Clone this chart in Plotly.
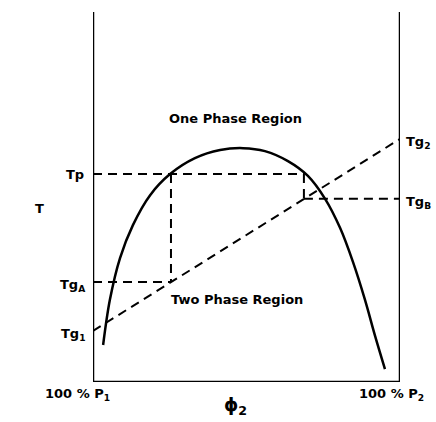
import plotly.graph_objects as go

# Binodal (cloud-point) curve: composition phi2 (% P2) vs temperature T (arbitrary units)
binodal_phi = [3.3, 5.5, 8.8, 13.0, 18.6, 25.1, 33.2, 41.4, 48.9, 56.0, 63.5, 70.0,
               75.6, 80.5, 84.7, 88.6, 91.9, 95.1]
binodal_T = [10.0, 22.2, 33.5, 42.4, 50.5, 56.2, 60.5, 62.7, 63.2, 62.4, 59.7, 55.7,
             49.5, 41.6, 32.4, 22.2, 12.4, 3.5]

# Glass transitions of the pure components and the phase-separation temperature
Tg1 = 13.8
Tg2 = 65.7
Tp = 56.2

# Coexisting phase compositions at Tp and their glass transitions
phi_A = 25.4
phi_B = 68.7
TgA = 27.0
TgB = 49.5

black = "#000000"
dash = "9px,6px"
font_family = "DejaVu Sans"

fig = go.Figure()

# Binodal
fig.add_trace(go.Scatter(x=binodal_phi, y=binodal_T, mode="lines",
                         line=dict(color=black, width=2.5, shape="spline", smoothing=1.0),
                         hoverinfo="skip"))

# Construction lines (dashed)
dashed = [
    ([0, 100], [Tg1, Tg2]),          # Tg vs composition
    ([0, phi_B], [Tp, Tp]),          # phase separation temperature
    ([phi_A, phi_A], [Tp, TgA]),     # drop to phase A
    ([0, phi_A], [TgA, TgA]),        # Tg of phase A
    ([phi_B, phi_B], [Tp, TgB]),     # drop to phase B
    ([phi_B, 100], [TgB, TgB]),      # Tg of phase B
]
for xs, ys in dashed:
    fig.add_trace(go.Scatter(x=xs, y=ys, mode="lines",
                             line=dict(color=black, width=2, dash=dash),
                             hoverinfo="skip"))

# Frame: left, right and bottom borders
for x0, y0, x1, y1 in [(0, 0, 0, 100), (100, 0, 100, 100), (0, 0, 100, 0)]:
    fig.add_shape(type="line", x0=x0, y0=y0, x1=x1, y1=y1, xref="x", yref="y",
                  line=dict(color=black, width=2.5))

def label(text, x, y, xanchor="center", size=13):
    # x, y are given in axis units (0-100) and placed in paper coordinates
    fig.add_annotation(text=text, x=x / 100, y=y / 100, xref="paper", yref="paper",
                       showarrow=False, xanchor=xanchor, yanchor="middle",
                       font=dict(family=font_family, size=size, color=black, weight="bold"))

label("T", -17.3, 47.0)
label("Tp", -2.3, Tp, xanchor="right")
label("Tg<sub>A</sub>", -2.0, TgA - 1.0, xanchor="right")
label("Tg<sub>1</sub>", -1.6, Tg1 - 1.0, xanchor="right")
label("Tg<sub>2</sub>", 1.3 + 100, Tg2 - 1.0, xanchor="left")
label("Tg<sub>B</sub>", 1.3 + 100, TgB - 1.0, xanchor="left")
label("One Phase Region", 46.3, 71.1)
label("Two Phase Region", 46.9, 22.2)
label("100 % P<sub>1</sub>", -4.9, -3.3)
label("100 % P<sub>2</sub>", 97.1, -3.3)
label("ϕ<sub>2</sub>", 46.3, -6.5, size=18)

fig.update_xaxes(range=[0, 100], visible=False, fixedrange=True)
fig.update_yaxes(range=[0, 100], visible=False, fixedrange=True)
fig.update_layout(width=436, height=422,
                  margin=dict(l=93, r=36, t=12, b=40),
                  paper_bgcolor="white", plot_bgcolor="white",
                  showlegend=False)

fig.write_html("out.html")
